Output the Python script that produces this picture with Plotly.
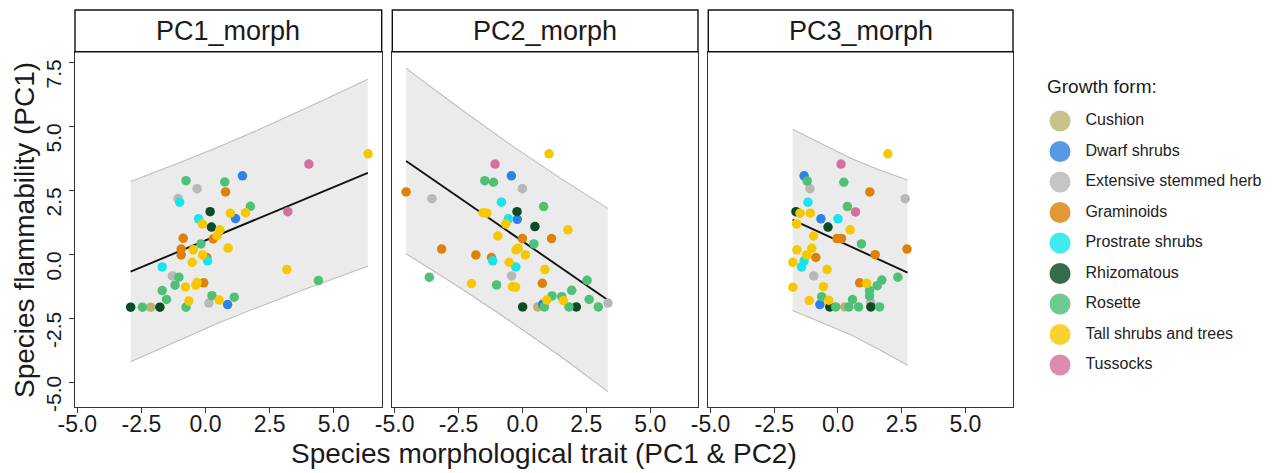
import plotly.graph_objects as go

# ---------------- data ----------------
FORMS = ["Cushion", "Dwarf shrubs", "Extensive stemmed herb", "Graminoids",
         "Prostrate shrubs", "Rhizomatous", "Rosette", "Tall shrubs and trees", "Tussocks"]
FORM_CODES = ["CU", "DW", "EX", "GR", "PR", "RH", "RO", "TA", "TU"]
POINT_COLORS = ["#BBB470", "#2F82E2", "#B8B8B8", "#DC8208", "#18E4EA",
                "#0A4A24", "#4EC077", "#F7C800", "#D4709C"]
PANELS = ["PC1_morph", "PC2_morph", "PC3_morph"]

X_TICKS = [-5, -2.5, 0, 2.5, 5]
X_TICK_LABELS = ["-5.0", "-2.5", "0.0", "2.5", "5.0"]
Y_TICKS = [-5, -2.5, 0, 2.5, 5, 7.5]
Y_TICK_LABELS = ["-5.0", "-2.5", "0.0", "2.5", "5.0", "7.5"]

# Panel 1 (PC1_morph)
p1_x = [6.34, 0.97, 1.56, -0.12, 0.56, 0.45, 0.88, -0.48, -0.11, -0.52, 3.17, -0.78, -0.38, -0.33, -0.65, 0.53,
        4.03, 3.21,
        1.44, 1.17, 0.86,
        -0.76, 0.75, 1.75, -0.18, -1.04, -1.19, 4.40, -1.69, -1.52, 0.25, 1.12, -0.76, -2.46,
        -0.33, -1.07, -1.29, 0.13,
        0.78, -0.87, 0.30, -0.95, -0.95, 0.05, -0.07,
        -1.01, -0.27, 0.08, -1.69,
        0.18, 0.23, -2.92, -1.78,
        -2.14]
p1_y = [3.95, 1.63, 1.65, 1.21, 0.98, 0.75, 0.27, 0.20, 0.00, -0.29, -0.57, -1.25, -1.18, -1.08, -1.80, -1.76,
        3.55, 1.69,
        3.09, 1.42, -1.94,
        2.90, 2.85, 1.90, 0.43, -0.87, -1.18, -1.00, -1.39, -1.74, -1.59, -1.65, -2.04, -2.04,
        2.59, 2.21, -0.82, -1.88,
        2.46, 0.65, 0.63, 0.23, 0.00, -0.10, -1.09,
        2.06, 1.41, -0.23, -0.47,
        1.69, 1.09, -2.04, -2.04,
        -2.04]
p1_form = ["TA"] * 16 + ["TU"] * 2 + ["DW"] * 3 + ["RO"] * 13 + ["EX"] * 4 + ["GR"] * 7 + ["PR"] * 4 + ["RH"] * 4 + ["CU"]

# Panel 2 (PC2_morph)
p2_x = [1.04, -1.54, -1.39, -0.65, 1.78, -0.96, -0.25, -0.17, 0.12, -0.52, 0.88, -1.99, -0.39, -0.27, 0.95, 1.60,
        -1.07,
        -0.43, -0.20, 0.79,
        -1.47, -1.13, 0.83, 0.45, -3.64, 2.53, -1.01, 1.93, 1.16, 1.54, 2.61, 0.86, 1.82, 2.97,
        0.00, -3.54, -0.42, 3.35,
        -4.55, 0.00, 1.14, -3.16, -1.82, -1.21, 0.78,
        -0.82, -0.55, -1.16, -0.26,
        -0.21, 0.49, 0.01, 2.11,
        0.60]
p2_y = [3.95, 1.65, 1.63, 1.21, 0.98, 0.74, 0.20, 0.26, 0.00, -0.29, -0.57, -1.12, -1.24, -1.26, -1.76, -1.78,
        3.55,
        3.09, 1.39, -1.93,
        2.90, 2.84, 1.89, 0.43, -0.87, -0.99, -1.17, -1.38, -1.60, -1.63, -1.74, -2.03, -2.03, -2.03,
        2.59, 2.20, -0.82, -1.88,
        2.46, 0.64, 0.64, 0.23, 0.00, -0.10, -1.11,
        2.06, 1.41, -0.23, -0.47,
        1.69, 1.11, -2.03, -2.03,
        -2.03]
p2_form = ["TA"] * 16 + ["TU"] * 1 + ["DW"] * 3 + ["RO"] * 14 + ["EX"] * 4 + ["GR"] * 7 + ["PR"] * 4 + ["RH"] * 4 + ["CU"]

# Panel 3 (PC3_morph)
p3_x = [1.96, -1.49, -1.09, -1.62, 0.48, -0.96, -1.61, -1.03, -1.23, -1.77, -0.43, -1.77, -0.57, 1.13, -1.13, -0.36,
        0.12, 0.69,
        -1.33, -0.67, -0.71,
        -1.21, 0.23, 0.37, 0.92, 2.35, 1.72, 1.54, 1.24, 1.24, -0.64, 0.57, -0.09, 0.43, 0.81, 1.63,
        -1.10, 2.64, -0.95, 1.29,
        1.25, -0.04, 0.14, 2.71, 1.46, -0.87, 0.85,
        -1.18, 0.00, -1.33, -1.43,
        -1.65, -0.39, -0.32, 1.29,
        0.27]
p3_y = [3.95, 1.63, 1.63, 1.21, 0.98, 0.74, 0.20, 0.26, 0.00, -0.29, -0.57, -1.26, -1.24, -1.11, -1.78, -1.77,
        3.55, 1.68,
        3.09, 1.41, -1.94,
        2.89, 2.84, 1.89, 0.43, -0.87, -0.98, -1.20, -1.39, -1.60, -1.63, -1.74, -2.03, -2.03, -2.03, -2.03,
        2.59, 2.20, -0.82, -1.85,
        2.46, 0.64, 0.64, 0.23, 0.01, -0.10, -1.09,
        2.06, 1.41, -0.23, -0.47,
        1.69, 1.09, -2.03, -2.03,
        -2.03]
p3_form = ["TA"] * 16 + ["TU"] * 2 + ["DW"] * 3 + ["RO"] * 15 + ["EX"] * 4 + ["GR"] * 7 + ["PR"] * 4 + ["RH"] * 4 + ["CU"]

# fitted lines and prediction bands
p1_fit_x = [-2.92, 6.33]
p1_fit_y = [-0.65, 3.21]
p1_band_x = [-2.92, -1.0, 0.5, 2.0, 4.0, 6.33]
p1_band_hi = [2.87, 3.61, 4.22, 4.86, 5.77, 6.86]
p1_band_lo = [-4.17, -3.31, -2.66, -2.06, -1.29, -0.44]

p2_fit_x = [-4.55, 3.34]
p2_fit_y = [3.67, -1.76]
p2_band_x = [-4.55, -2.5, -0.5, 1.5, 3.34]
p2_band_hi = [7.29, 5.76, 4.33, 2.99, 1.82]
p2_band_lo = [0.05, -1.24, -2.57, -3.97, -5.34]

p3_fit_x = [-1.78, 2.73]
p3_fit_y = [1.37, -0.69]
p3_band_x = [-1.78, -0.5, 0.5, 1.6, 2.73]
p3_band_hi = [4.91, 4.26, 3.78, 3.33, 2.93]
p3_band_lo = [-2.17, -2.69, -3.12, -3.68, -4.31]

# ---------------- figure ----------------
W, H = 1272, 473
FONT = "Liberation Sans, Arial, sans-serif"
TXT = "#1a1a1a"

panel_data = [
    (p1_x, p1_y, p1_form, p1_fit_x, p1_fit_y, p1_band_x, p1_band_lo, p1_band_hi),
    (p2_x, p2_y, p2_form, p2_fit_x, p2_fit_y, p2_band_x, p2_band_lo, p2_band_hi),
    (p3_x, p3_y, p3_form, p3_fit_x, p3_fit_y, p3_band_x, p3_band_lo, p3_band_hi),
]

x_dom_px = [(75.0, 381.7), (392.3, 698.0), (708.3, 1013.0)]
y_dom = [1 - 407.0 / H, 1 - 51.7 / H]

fig = go.Figure()

for i, (xs, ys, fs, fx, fy, bx, blo, bhi) in enumerate(panel_data):
    xr = "x" if i == 0 else f"x{i + 1}"
    yr = "y" if i == 0 else f"y{i + 1}"
    # ribbon
    fig.add_trace(go.Scatter(x=bx, y=bhi, mode="lines", line=dict(color="#BDBDBD", width=1.1),
                             xaxis=xr, yaxis=yr, showlegend=False, hoverinfo="skip"))
    fig.add_trace(go.Scatter(x=bx, y=blo, mode="lines", line=dict(color="#BDBDBD", width=1.1),
                             fill="tonexty", fillcolor="#EBEBEB",
                             xaxis=xr, yaxis=yr, showlegend=False, hoverinfo="skip"))
    # fit line
    fig.add_trace(go.Scatter(x=fx, y=fy, mode="lines", line=dict(color="#111111", width=1.9),
                             xaxis=xr, yaxis=yr, showlegend=False, hoverinfo="skip"))
    # points
    for code, name, col in zip(FORM_CODES, FORMS, POINT_COLORS):
        px_ = [x for x, f in zip(xs, fs) if f == code]
        py_ = [y for y, f in zip(ys, fs) if f == code]
        fig.add_trace(go.Scatter(x=px_, y=py_, mode="markers", name=name,
                                 marker=dict(color=col, size=9.5, line=dict(width=0)),
                                 xaxis=xr, yaxis=yr, showlegend=False))

# legend drawn as a small key chart
fig.add_trace(go.Scatter(x=[0] * len(FORMS), y=FORMS, mode="markers",
                         marker=dict(color=POINT_COLORS, size=21, opacity=0.82, line=dict(width=0)),
                         xaxis="x4", yaxis="y4", showlegend=False, hoverinfo="skip"))
fig.add_trace(go.Scatter(x=[1.15] * len(FORMS), y=FORMS, mode="text", text=FORMS,
                         textposition="middle right",
                         textfont=dict(family=FONT, size=16, color="#222222"),
                         xaxis="x4", yaxis="y4", showlegend=False, hoverinfo="skip"))

axis_line = dict(showline=True, linecolor="#333333", linewidth=1.1, mirror=True,
                 showgrid=False, zeroline=False, automargin=False)

layout = dict(
    template="none",
    width=W, height=H,
    margin=dict(l=0, r=0, t=0, b=0, pad=0),
    paper_bgcolor="white", plot_bgcolor="white",
    font=dict(family=FONT, color=TXT),
    showlegend=False,
)

for i in range(3):
    xk = "xaxis" if i == 0 else f"xaxis{i + 1}"
    yk = "yaxis" if i == 0 else f"yaxis{i + 1}"
    d0, d1 = x_dom_px[i]
    layout[xk] = dict(domain=[d0 / W, d1 / W], range=[-5.09, 6.87],
                      tickvals=X_TICKS, ticktext=X_TICK_LABELS,
                      ticks="outside", ticklen=5, tickwidth=1.1, tickcolor="#333333",
                      ticklabelstandoff=-9,
                      tickfont=dict(family=FONT, size=23, color=TXT),
                      anchor="y" if i == 0 else f"y{i + 1}", **axis_line)
    ycfg = dict(domain=y_dom, range=[-5.94, 7.94],
                anchor="x" if i == 0 else f"x{i + 1}", **axis_line)
    if i == 0:
        ycfg.update(tickvals=Y_TICKS, ticktext=Y_TICK_LABELS, ticks="outside", ticklen=5,
                    tickwidth=1.1, tickcolor="#333333", tickangle=-90, ticklabelshift=14,
                    tickfont=dict(family=FONT, size=21, color=TXT))
    else:
        ycfg.update(showticklabels=False, ticks="")
    layout[yk] = ycfg

layout["xaxis4"] = dict(domain=[1049 / W, 1.0], range=[-0.5, 9.6], visible=False,
                        anchor="y4", automargin=False)
layout["yaxis4"] = dict(domain=[1 - 380.25 / H, 1 - 105.75 / H], type="category",
                        categoryorder="array", categoryarray=FORMS,
                        range=[8.5, -0.5], visible=False, anchor="x4", automargin=False)

shapes = []
annotations = []
for i, name in enumerate(PANELS):
    d0, d1 = x_dom_px[i]
    shapes.append(dict(type="rect", xref="paper", yref="paper",
                       x0=d0 / W, x1=d1 / W, y0=1 - 51.7 / H, y1=1 - 10 / H,
                       line=dict(color="#111111", width=1.4), fillcolor="white", layer="above"))
    annotations.append(dict(text=name, xref="paper", yref="paper", x=(d0 + d1) / 2 / W,
                            y=1 - 31 / H, showarrow=False, xanchor="center", yanchor="middle",
                            font=dict(family=FONT, size=27, color=TXT)))

annotations.append(dict(text="Species morphological trait (PC1 & PC2)", xref="paper", yref="paper",
                        x=544 / W, y=1 - 453 / H, showarrow=False, xanchor="center", yanchor="middle",
                        font=dict(family=FONT, size=28, color=TXT)))
annotations.append(dict(text="Species flammability (PC1)", xref="paper", yref="paper",
                        x=25 / W, y=1 - 230 / H, showarrow=False, textangle=-90,
                        xanchor="center", yanchor="middle",
                        font=dict(family=FONT, size=28, color=TXT)))
annotations.append(dict(text="Growth form:", xref="paper", yref="paper",
                        x=1045 / W, y=1 - 87 / H, showarrow=False, xanchor="left", yanchor="middle",
                        font=dict(family=FONT, size=19, color=TXT)))

layout["shapes"] = shapes
layout["annotations"] = annotations
fig.update_layout(**layout)

fig.write_html("out.html")
